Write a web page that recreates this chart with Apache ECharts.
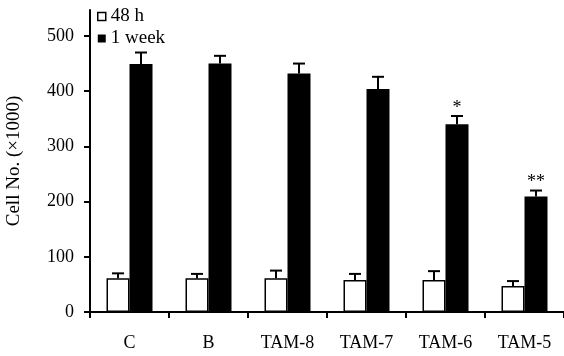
<!DOCTYPE html>
<html>
<head>
<meta charset="utf-8">
<script src="https://cdn.jsdelivr.net/npm/echarts@6/dist/echarts.min.js"></script>
<style>html,body{margin:0;padding:0;background:#fff}#c{width:564px;height:356px}</style>
</head>
<body>
<div id="c"></div>
<script>
var categories = ['C', 'B', 'TAM-8', 'TAM-7', 'TAM-6', 'TAM-5'];
var h48 = [61, 61, 61, 58, 58, 47];
var h48Err = [9, 8, 14, 11, 16, 9];
var week1 = [449, 450, 432, 404, 340, 209];
var week1Err = [21, 14, 18, 22, 15, 11];
var marks = ['', '', '', '', '*', '**'];
var yTicks = [0, 100, 200, 300, 400, 500];

var FONT = "'Liberation Serif', 'Times New Roman', serif";
var BAR_W = 23;

function errSeries(vals, errs, offsetSign, withMarks) {
  return {
    type: 'custom',
    silent: true,
    z: 5,
    data: vals.map(function (v, i) { return [i, v, v + errs[i]]; }),
    renderItem: function (params, api) {
      var i = api.value(0);
      var base = api.coord([i, api.value(1)]);
      var top = api.coord([i, api.value(2)]);
      var x = base[0] + offsetSign * BAR_W / 2;
      var children = [
        { type: 'line', shape: { x1: x, y1: base[1], x2: x, y2: top[1] }, style: { stroke: '#000', lineWidth: 2 } },
        { type: 'line', shape: { x1: x - 6, y1: top[1], x2: x + 6, y2: top[1] }, style: { stroke: '#000', lineWidth: 2 } }
      ];
      if (withMarks && marks[i]) {
        children.push({
          type: 'text',
          style: { text: marks[i], x: x, y: top[1] + 1, align: 'center', verticalAlign: 'bottom',
                   font: '18px ' + FONT, fill: '#000' }
        });
      }
      return { type: 'group', children: children };
    }
  };
}

var chart = echarts.init(document.getElementById('c'));
chart.setOption({
  animation: false,
  backgroundColor: '#fff',
  textStyle: { fontFamily: FONT, color: '#000' },
  grid: { left: 90, right: 0, top: 10, bottom: 44, containLabel: false, outerBoundsMode: 'none' },
  legend: {
    orient: 'vertical', left: 97, top: 7, padding: 0, itemWidth: 8, itemHeight: 8, itemGap: 3,
    textStyle: { fontFamily: FONT, fontSize: 19, color: '#000' },
    data: [
      { name: '48 h', icon: 'rect', itemStyle: { color: '#fff', borderColor: '#000', borderWidth: 1.5 } },
      { name: '1 week', icon: 'rect', itemStyle: { color: '#000' } }
    ]
  },
  xAxis: {
    type: 'category', data: categories,
    axisLine: { lineStyle: { color: '#000', width: 2 } },
    axisTick: { show: true, length: 6, lineStyle: { color: '#000', width: 2 } },
    axisLabel: { color: '#000', fontFamily: FONT, fontSize: 18, margin: 22 }
  },
  yAxis: {
    type: 'value', min: 0, max: 547,
    name: 'Cell No. (×1000)', nameLocation: 'middle', nameGap: 66,
    nameTextStyle: { fontFamily: FONT, fontSize: 19, color: '#000' },
    splitLine: { show: false },
    axisLine: { show: true, lineStyle: { color: '#000', width: 2 } },
    axisTick: { show: true, length: 6, customValues: yTicks, lineStyle: { color: '#000', width: 2 } },
    axisLabel: { color: '#000', fontFamily: FONT, fontSize: 18, margin: 16, customValues: yTicks }
  },
  series: [
    { name: '48 h', type: 'bar', data: h48, barWidth: BAR_W, barGap: '0%',
      itemStyle: { color: '#fff', borderColor: '#000', borderWidth: 1.5 } },
    { name: '1 week', type: 'bar', data: week1, barWidth: BAR_W, barGap: '0%',
      itemStyle: { color: '#000' } },
    errSeries(h48, h48Err, -1, false),
    errSeries(week1, week1Err, 1, true)
  ]
});
</script>
</body>
</html>
